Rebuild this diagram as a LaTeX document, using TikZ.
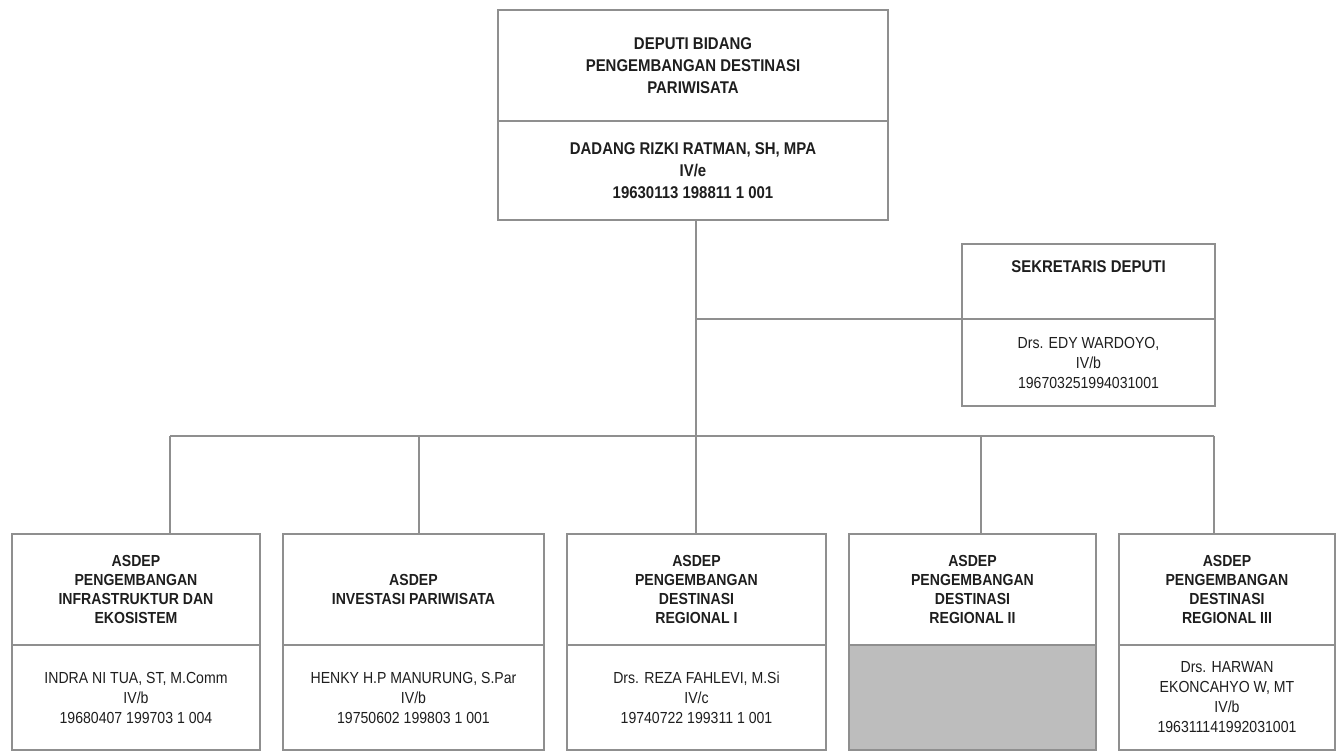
\documentclass[tikz,border=0pt]{standalone}
\usepackage{fontspec}
\setmainfont{Liberation Sans}[FakeStretch=0.88]
\usepackage{tikz}
\usetikzlibrary{positioning}
\definecolor{framegray}{HTML}{8F8F8F}
\definecolor{inkgray}{HTML}{1E1E1E}
\definecolor{vacant}{HTML}{BDBDBD}
\tikzset{
x=1pt, y=-1pt, % one unit is one pixel of the chart, y runs downwards
every node/.style={outer sep=0pt, inner sep=2pt, align=center, text=inkgray}, % plain centred text
title/.style={draw=framegray, line width=1.2pt, font=\bfseries\fontsize{16}{19}\selectfont}, % upper half of a box
holder/.style={draw=framegray, line width=1.2pt, font=\fontsize{16}{20}\selectfont}, % lower half, who holds the post
asdep/.style={title, minimum height=111pt}, % upper half of a bottom box
asname/.style={holder, minimum height=105pt}, % lower half of a bottom box
link/.style={draw=framegray, line width=1.2pt}, % lines between the boxes
}

\begin{document}
\begin{tikzpicture}
\useasboundingbox (0,0) rectangle (1339,752);
% deputi
\node[title, font=\bfseries\fontsize{17}{22}\selectfont, minimum width=390pt, minimum height=111pt] (dep) at (693,65.5) {DEPUTI BIDANG\\PENGEMBANGAN DESTINASI\\PARIWISATA};
\node[holder, font=\bfseries\fontsize{17}{22}\selectfont, minimum width=390pt, minimum height=99pt, below=0pt of dep] (depname) {DADANG RIZKI RATMAN, SH, MPA\\IV/e\\19630113 198811 1 001};
% sekretaris
\node[title, minimum width=253pt, minimum height=75pt] (sek) at (1088.5,281.5) {};
\node[font=\bfseries\fontsize{17}{20}\selectfont] (sektitle) at ([yshift=-23pt]sek.north) {SEKRETARIS DEPUTI};
\node[holder, minimum width=253pt, minimum height=87pt, below=0pt of sek] (sekname) {Drs. EDY WARDOYO,\\IV/b\\196703251994031001};
% asdep row
\node[asdep, minimum width=248pt] (as1) at (136,589.5) {ASDEP\\PENGEMBANGAN\\INFRASTRUKTUR DAN\\EKOSISTEM};
\node[asdep, minimum width=261pt, right=23pt of as1] (as2) {ASDEP\\INVESTASI PARIWISATA};
\node[asdep, minimum width=259pt, right=23pt of as2] (as3) {ASDEP\\PENGEMBANGAN\\DESTINASI\\REGIONAL I};
\node[asdep, minimum width=247pt, right=23pt of as3] (as4) {ASDEP\\PENGEMBANGAN\\DESTINASI\\REGIONAL II};
\node[asdep, minimum width=216pt, right=23pt of as4] (as5) {ASDEP\\PENGEMBANGAN\\DESTINASI\\REGIONAL III};
\node[asname, minimum width=248pt, below=0pt of as1] (nm1) {INDRA NI TUA, ST, M.Comm\\IV/b\\19680407 199703 1 004};
\node[asname, minimum width=261pt, below=0pt of as2] (nm2) {HENKY H.P MANURUNG, S.Par\\IV/b\\19750602 199803 1 001};
\node[asname, minimum width=259pt, below=0pt of as3] (nm3) {Drs. REZA FAHLEVI, M.Si\\IV/c\\19740722 199311 1 001};
\node[asname, minimum width=247pt, fill=vacant, below=0pt of as4] (nm4) {};
\node[asname, minimum width=216pt, below=0pt of as5] (nm5) {Drs. HARWAN\\EKONCAHYO W, MT\\IV/b\\196311141992031001};
% lines
\coordinate (bus) at (0,436);
\coordinate (trunk) at ([xshift=3pt]depname.south);
\draw[link] (trunk) -- (trunk |- bus);
\draw[link] (sek.south west) -- (sek.south west -| trunk);
\draw[link] ([xshift=34pt]as1.north |- bus) -- ([xshift=-13pt]as5.north |- bus);
\foreach \a/\dx in {as1/34, as2/5.5, as3/-0.5, as4/8.5, as5/-13}
  \draw[link] ([xshift=\dx pt]\a.north |- bus) -- ([xshift=\dx pt]\a.north);
\end{tikzpicture}
\end{document}
